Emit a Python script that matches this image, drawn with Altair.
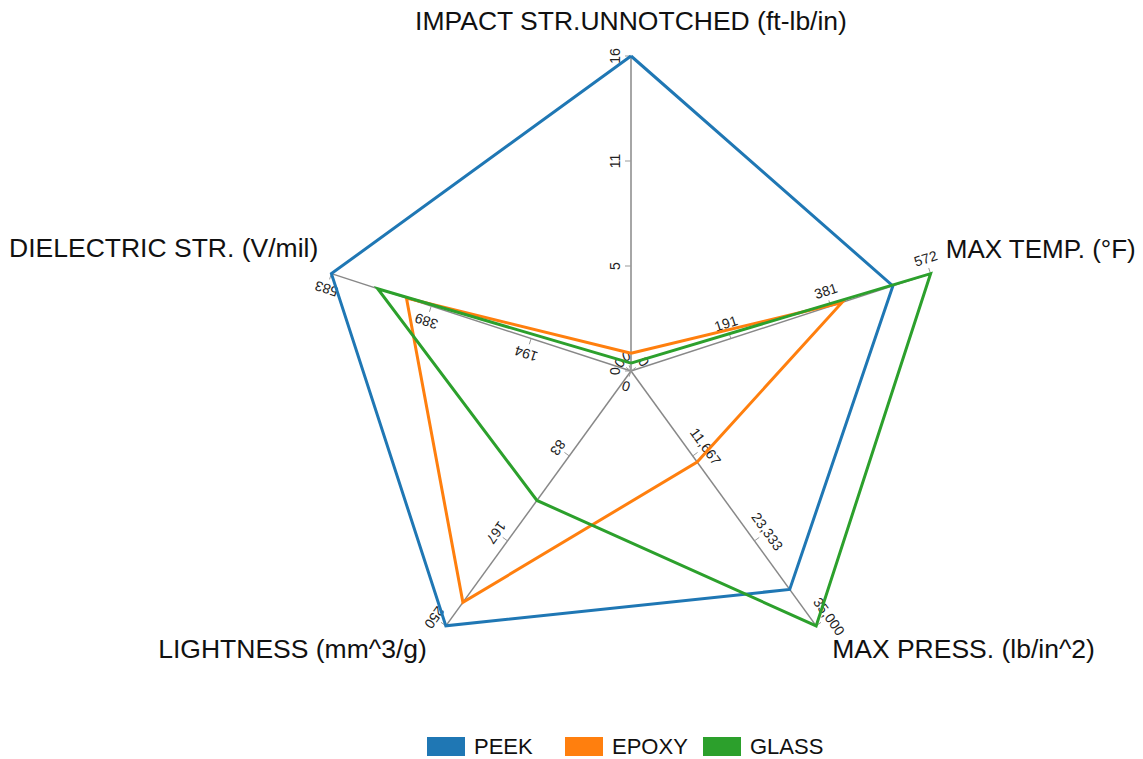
import altair as alt
import pandas as pd

# ---- data ----
axis_names = ["IMPACT STR.UNNOTCHED (ft-lb/in)", "MAX TEMP. (°F)", "MAX PRESS. (lb/in^2)",
              "LIGHTNESS (mm^3/g)", "DIELECTRIC STR. (V/mil)"]
axis_max = [16, 572, 35000, 250, 583]
tick_text = [["0", "5", "11", "16"],
             ["0", "191", "381", "572"],
             ["0", "11,667", "23,333", "35,000"],
             ["0", "83", "167", "250"],
             ["0", "194", "389", "583"]]
series_names = ["PEEK", "EPOXY", "GLASS"]
peek_vals = [16, 500, 30000, 250, 583]
epoxy_vals = [0.9, 403, 12500, 227, 437]
glass_vals = [0.4, 572, 35000, 127, 493]
series_colors = ["#1f77b4", "#ff7f0e", "#2ca02c"]

# ---- layout ----
W, H = 1127, 751
CX, CY = 623, 363
R = 315
FONT = "Liberation Sans"
LEG_X0, LEG_PITCH, LEG_Y = -204, 138, -375.5

rows = []
for s, vals in zip(series_names, [peek_vals, epoxy_vals, glass_vals]):
    for j in range(6):
        k = j % 5
        rows.append({"series": s, "axis": k, "value": vals[k], "max": axis_max[k], "ord": j})
poly = pd.DataFrame(rows)
axes_df = pd.DataFrame({"axis": list(range(5)), "name": axis_names, "max": axis_max})
ticks = pd.DataFrame([{"axis": i, "k": k, "label": tick_text[i][k]}
                      for i in range(5) for k in range(4)])
legend_df = pd.DataFrame({"series": series_names, "idx": list(range(len(series_names)))})

xs = alt.Scale(domain=[-CX, W - CX], nice=False, zero=False)
ys = alt.Scale(domain=[CY - H, CY], nice=False, zero=False)
ANG = "(90 - 72*datum.axis)*PI/180"
color = alt.Color("series:N", scale=alt.Scale(domain=series_names, range=series_colors),
                  legend=None)


def X(f):
    return alt.X(f, type="quantitative", scale=xs, axis=None)


def Y(f):
    return alt.Y(f, type="quantitative", scale=ys, axis=None)


axis_lines = alt.Chart(axes_df).transform_calculate(
    a=ANG, x0="0", y0="0",
    x1=f"{R}*cos(datum.a)", y1=f"{R}*sin(datum.a)"
).mark_rule(color="#888888", strokeWidth=1.5).encode(
    x=X("x0"), y=Y("y0"), x2="x1:Q", y2="y1:Q")

tick_base = alt.Chart(ticks).transform_calculate(
    a=ANG, r=f"datum.k/3*{R}", side="(datum.axis == 3 ? -1 : 1)",
    px="datum.r*cos(datum.a)", py="datum.r*sin(datum.a)",
    tx="datum.px - datum.side*6*sin(datum.a)", ty="datum.py + datum.side*6*cos(datum.a)",
    lx="datum.px - datum.side*15*sin(datum.a)", ly="datum.py + datum.side*15*cos(datum.a)",
    rot="((72*datum.axis - 90) % 360 + 360) % 360")
tick_marks = tick_base.mark_rule(color="#999999", strokeWidth=1).encode(
    x=X("px"), y=Y("py"), x2="tx:Q", y2="ty:Q")
tick_labels = tick_base.mark_text(font=FONT, fontSize=14, baseline="middle", align="center",
                                  color="#222222").encode(
    x=X("lx"), y=Y("ly"), text="label:N", angle=alt.Angle("rot:Q", scale=None))

series_layers = []
for s in series_names:
    series_layers.append(
        alt.Chart(poly).transform_filter(alt.datum.series == s).transform_calculate(
            a=ANG, r=f"datum.value/datum.max*{R}",
            x="datum.r*cos(datum.a)", y="datum.r*sin(datum.a)"
        ).mark_line(strokeWidth=3).encode(x=X("x"), y=Y("y"), color=color, order="ord:Q"))

title_styles = [("center", "bottom", 0, -3, 26.5), ("left", "bottom", -1, -5, 26),
                ("left", "top", 6, -3, 26.5), ("right", "top", -9, -3, 26.5),
                ("right", "bottom", 3, -5, 26.5)]
title_layers = []
for i, (al, bl, dx, dy, fs) in enumerate(title_styles):
    title_layers.append(
        alt.Chart(axes_df).transform_filter(alt.datum.axis == i).transform_calculate(
            a=ANG, x=f"{R + 17}*cos(datum.a)", y=f"{R + 17}*sin(datum.a)"
        ).mark_text(font=FONT, fontSize=fs, align=al, baseline=bl, dx=dx, dy=dy,
                    color="#111111").encode(x=X("x"), y=Y("y"), text="name:N"))

# legend drawn from the series list
leg_base = alt.Chart(legend_df).transform_calculate(
    sx0=f"{LEG_X0} + datum.idx*{LEG_PITCH}", sx1=f"{LEG_X0 + 38} + datum.idx*{LEG_PITCH}",
    sy0=f"{LEG_Y - 9.5}", sy1=f"{LEG_Y + 9.5}",
    lx=f"{LEG_X0 + 47} + datum.idx*{LEG_PITCH}", ly=f"{LEG_Y}")
leg_rects = leg_base.mark_rect().encode(x=X("sx0"), x2="sx1:Q", y=Y("sy0"), y2="sy1:Q",
                                        color=color)
leg_text = leg_base.mark_text(font=FONT, fontSize=22, align="left", baseline="middle",
                              color="#111111").encode(x=X("lx"), y=Y("ly"), text="series:N")

chart = alt.layer(axis_lines, tick_marks, tick_labels, *series_layers, *title_layers,
                  leg_rects, leg_text).properties(
    width=W, height=H, padding=0, autosize=alt.AutoSizeParams(type="none"),
    background="white"
).configure_view(stroke=None)

chart.save("out.html", embed_options={"renderer": "svg", "actions": False})
